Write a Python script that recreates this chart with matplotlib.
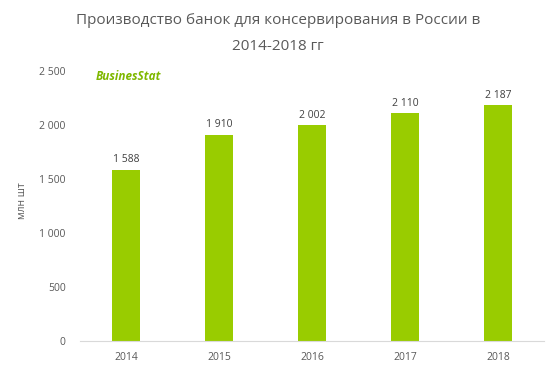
import matplotlib.pyplot as plt

years = ["2014", "2015", "2016", "2017", "2018"]
values = [1588, 1910, 2002, 2110, 2187]
yticks = [0, 500, 1000, 1500, 2000, 2500]

GREEN = "#99CC00"
GRAY = "#595959"


def fmt(v):
    return f"{v:,}".replace(",", " ")


def main():
    plt.rcParams["font.family"] = ["Open Sans", "DejaVu Sans"]
    fig = plt.figure(figsize=(5.56, 3.72), dpi=100)
    ax = fig.add_axes([0.143, 0.083, 0.836, 0.726])

    x = range(len(years))
    ax.bar(x, values, width=0.3, color=GREEN)
    for i, v in zip(x, values):
        ax.text(i, v + 40, fmt(v), ha="center", va="bottom", fontsize=7.5, color="#404040")

    ax.set_xlim(-0.5, len(years) - 0.5)
    ax.set_ylim(0, 2500)
    ax.set_xticks(list(x))
    ax.set_xticklabels(years)
    ax.set_yticks(yticks)
    ax.set_yticklabels([fmt(t) for t in yticks])
    ax.tick_params(axis="both", length=0, labelsize=7.5, colors=GRAY)
    ax.tick_params(axis="y", pad=10)
    ax.tick_params(axis="x", pad=8)
    for s in ["top", "right", "left"]:
        ax.spines[s].set_visible(False)
    ax.spines["bottom"].set_color("#D9D9D9")

    fig.text(0.04, 0.46, "млн шт", rotation=90, fontsize=7.5, color=GRAY,
             ha="center", va="center")

    fig.text(0.5, 0.945, "Производство банок для консервирования в России в",
             ha="center", va="center", fontsize=11, color=GRAY)
    fig.text(0.5, 0.875, "2014-2018 гг", ha="center", va="center", fontsize=11, color=GRAY)

    fig.text(0.172, 0.795, "BusinesStat", fontsize=8.5, fontweight="bold",
             fontstyle="italic", color="#7FB800", ha="left", va="center")

    fig.savefig("out.png", dpi=100)


if __name__ == "__main__":
    main()
